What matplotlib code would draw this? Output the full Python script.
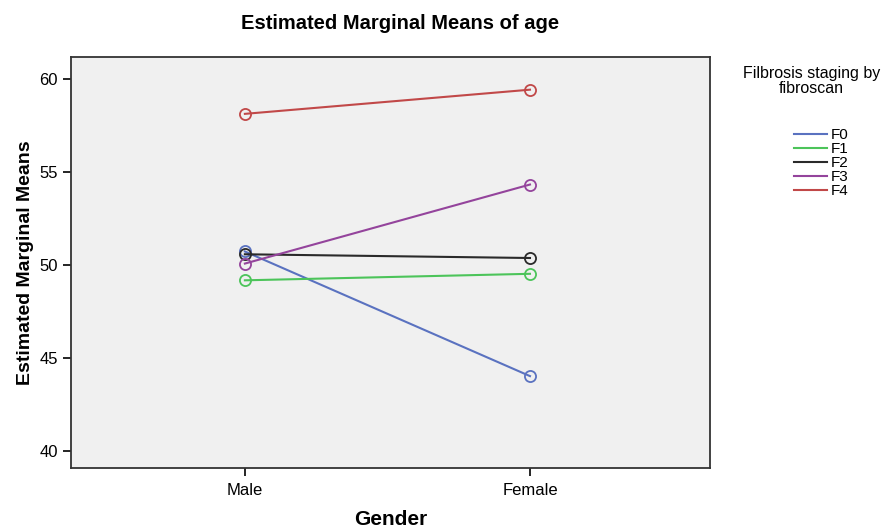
import matplotlib.pyplot as plt
from matplotlib.lines import Line2D

plt.rcParams['font.family'] = ['Liberation Sans', 'DejaVu Sans']

# Data
genders = ['Male', 'Female']
stages = ['F0', 'F1', 'F2', 'F3', 'F4']
f0 = [50.75, 44.05]
f1 = [49.2, 49.55]
f2 = [50.6, 50.4]
f3 = [50.1, 54.35]
f4 = [58.15, 59.45]
series = [f0, f1, f2, f3, f4]
colors = ['#5a72c0', '#4cc45a', '#2a2a2a', '#94449c', '#c14848']

fig = plt.figure(figsize=(8.87, 5.29), dpi=100)
ax = fig.add_axes([0.080, 0.115, 0.720, 0.777])
ax.set_facecolor('#f0f0f0')

xs = list(range(len(genders)))
for vals, name, c in zip(series, stages, colors):
    ax.plot(xs, vals, color=c, lw=1.5, marker='o', markersize=8,
            markerfacecolor='none', markeredgecolor=c, markeredgewidth=1.3,
            label=name)

ax.set_xlim(-0.61, 1.63)
ax.set_ylim(39.1, 61.2)
ax.set_xticks(xs)
ax.set_xticklabels(genders, fontsize=12)
ax.set_yticks([40, 45, 50, 55, 60])
ax.tick_params(axis='y', labelsize=12, length=6, width=1.2)
ax.tick_params(axis='x', length=6, width=1.2, pad=5)
for s in ax.spines.values():
    s.set_linewidth(1.3)
    s.set_color('#333333')

ax.set_xlabel('Gender', fontsize=15, fontweight='bold', labelpad=8)
ax.set_ylabel('Estimated Marginal Means', fontsize=14, fontweight='bold', labelpad=4)
fig.text(0.451, 0.955, 'Estimated Marginal Means of age', ha='center', va='center',
         fontsize=14.5, fontweight='bold')

# Legend title + entries (lines only)
fig.text(0.915, 0.847, 'Filbrosis staging by\nfibroscan', ha='center', va='center',
         fontsize=11.5, linespacing=1.0)
handles = [Line2D([0], [0], color=c, lw=1.5) for c in colors]
fig.legend(handles, stages, loc='upper left', bbox_to_anchor=(0.886, 0.772),
           frameon=False, fontsize=11, handlelength=2.2, borderpad=0,
           labelspacing=0.0, handletextpad=0.25)

fig.savefig('out.png', dpi=100)
